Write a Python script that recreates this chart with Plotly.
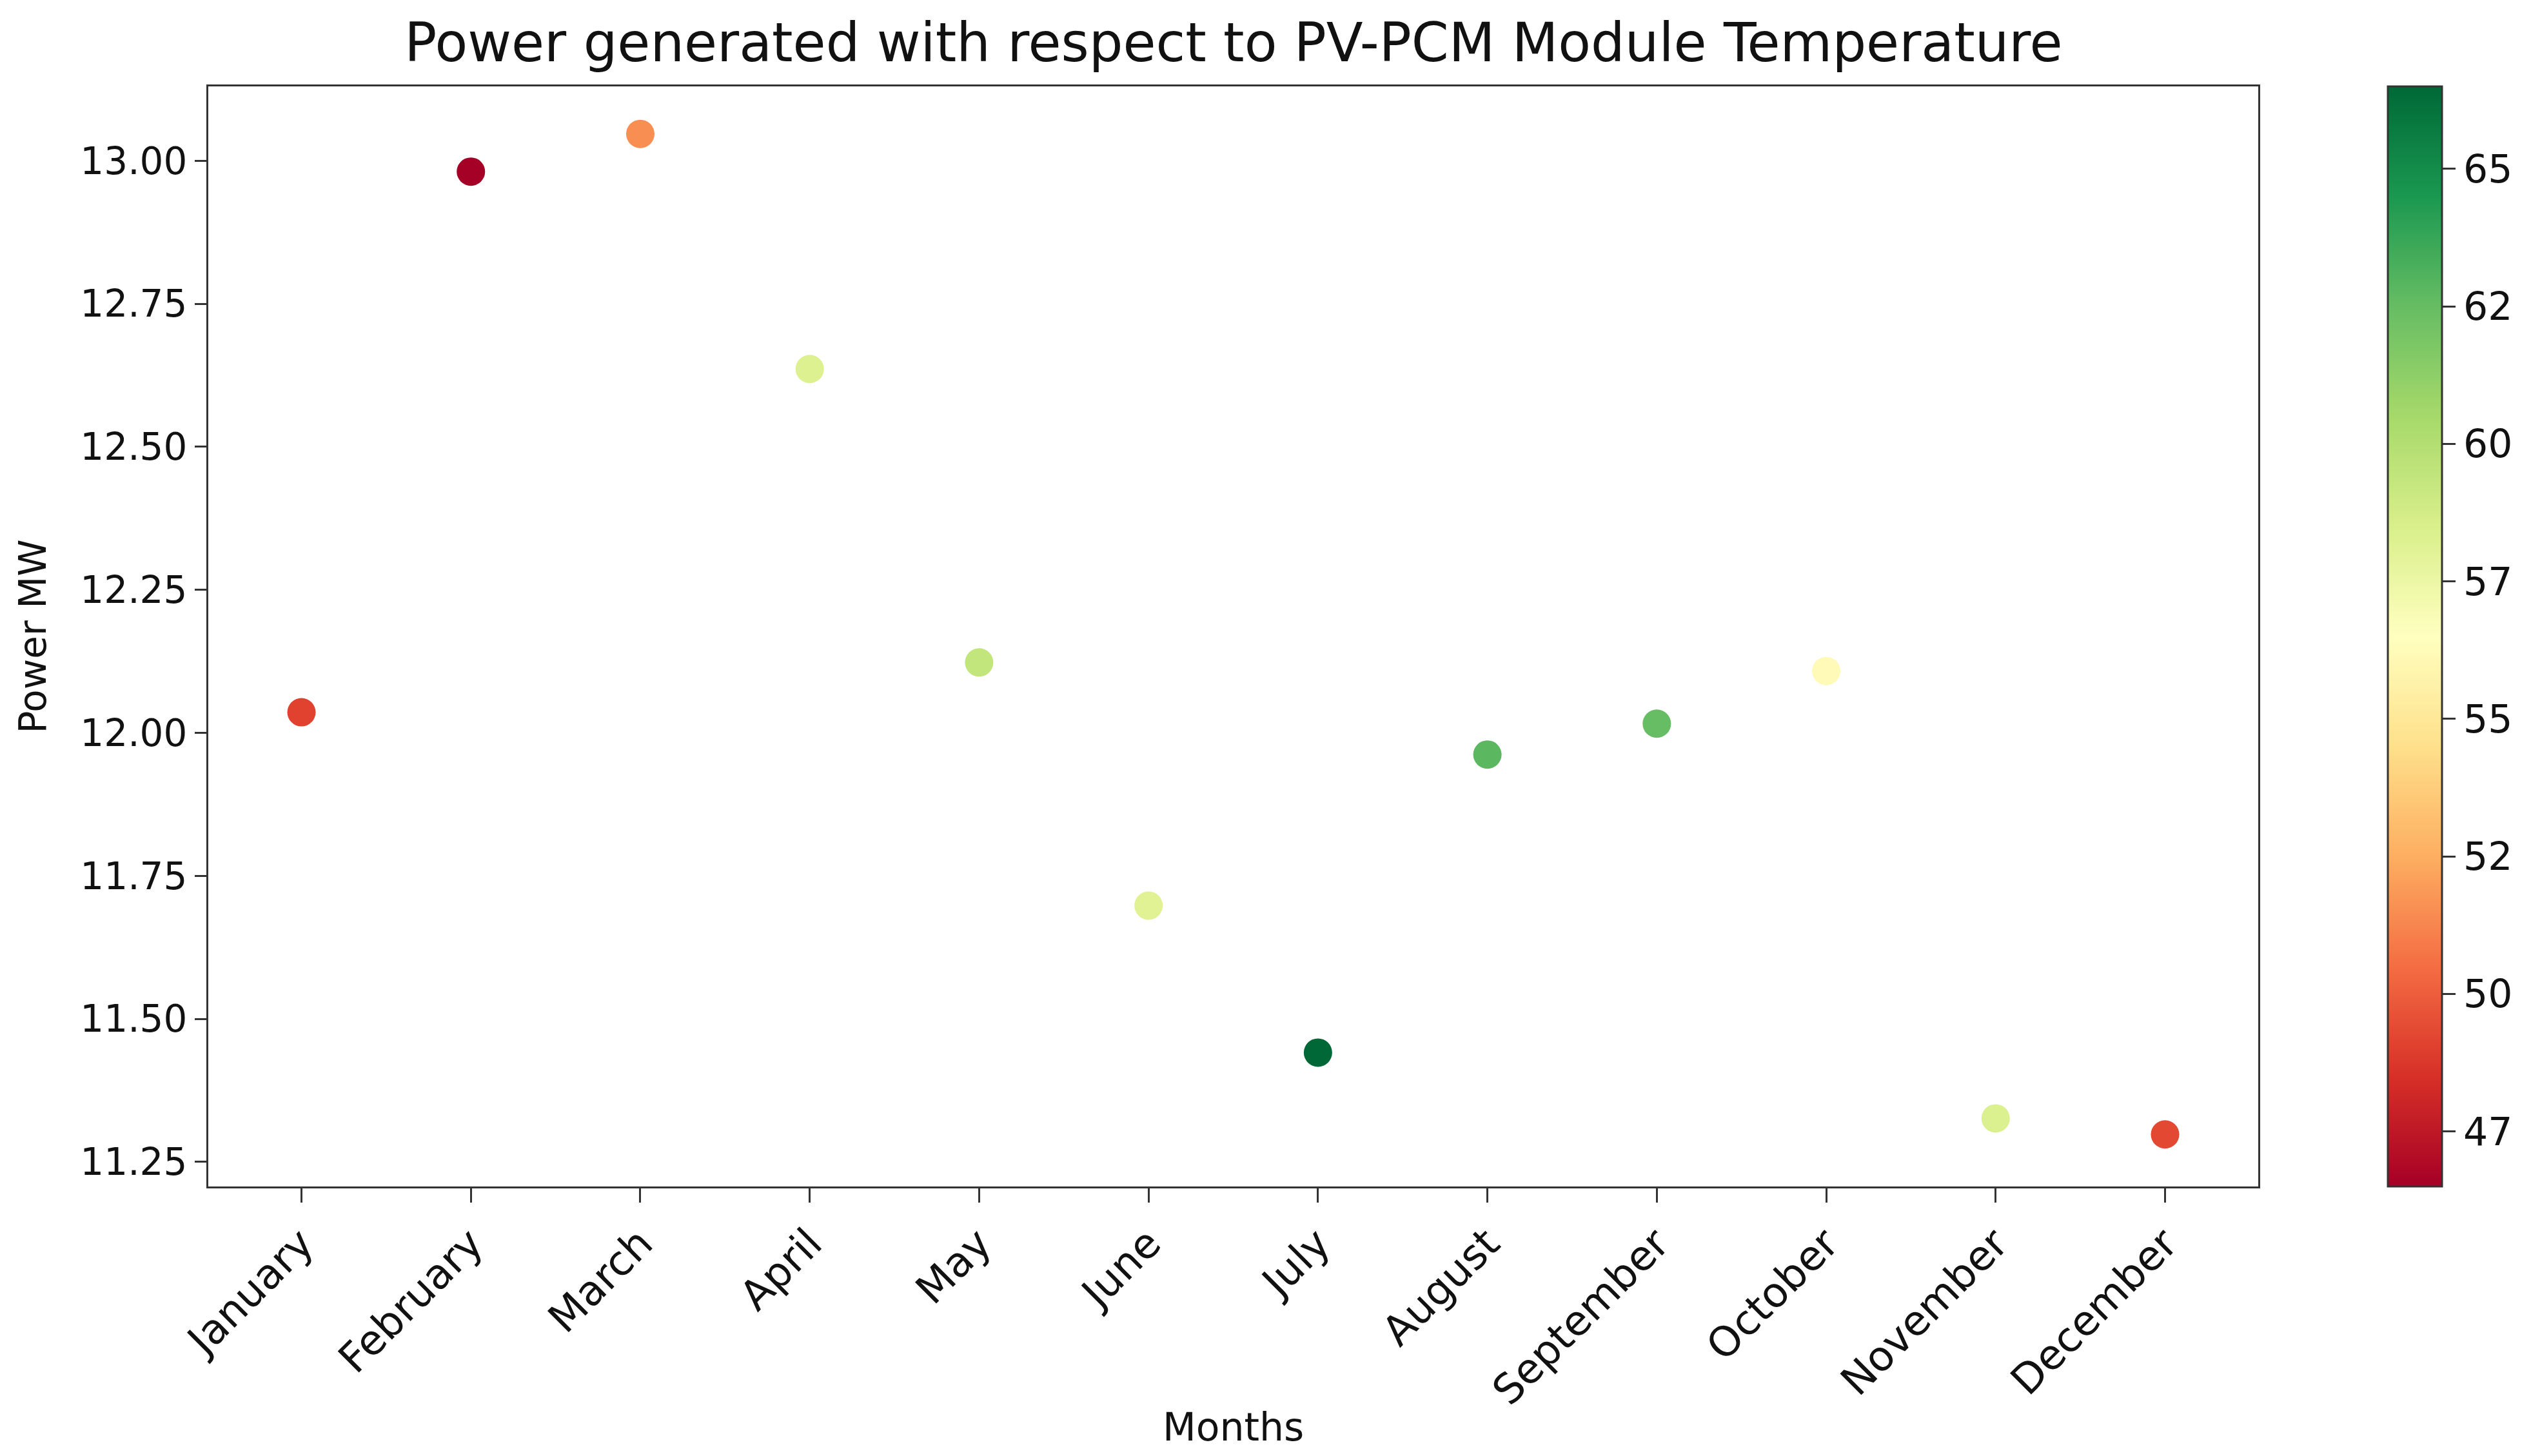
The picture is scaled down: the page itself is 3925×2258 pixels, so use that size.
import plotly.graph_objects as go

months = ["January", "February", "March", "April", "May", "June", "July",
          "August", "September", "October", "November", "December"]
power_mw = [12.036, 12.981, 13.047, 12.636, 12.123, 11.698, 11.441,
            11.962, 12.016, 12.108, 11.326, 11.298]
module_temp = [49.1, 46.5, 51.5, 58.3, 59.4, 58.1, 66.5,
               62.8, 62.5, 56.2, 58.4, 49.3]

cbar_tickvals = [47.5, 50, 52.5, 55, 57.5, 60, 62.5, 65]
cbar_ticktext = ["47", "50", "52", "55", "57", "60", "62", "65"]
y_tickvals = [11.25, 11.5, 11.75, 12.0, 12.25, 12.5, 12.75, 13.0]
y_ticktext = ["11.25", "11.50", "11.75", "12.00", "12.25", "12.50", "12.75", "13.00"]

FONT = "DejaVu Sans"
W, H = 3925, 2258
ML, MR, MT, MB = 315, 431, 126, 426
PH = H - MT - MB

fig = go.Figure()
fig.add_trace(go.Scatter(
    x=list(range(len(months))),
    y=power_mw,
    mode="markers",
    marker=dict(
        size=44,
        color=module_temp,
        colorscale="RdYlGn",
        cmin=46.5,
        cmax=66.5,
        line=dict(width=0),
        showscale=True,
        colorbar=dict(
            x=(3695 - ML) / (W - ML - MR),
            xanchor="left",
            xpad=0,
            y=0.5,
            yanchor="middle",
            len=1,
            lenmode="fraction",
            ypad=0,
            thickness=84,
            thicknessmode="pixels",
            outlinewidth=3,
            outlinecolor="#333333",
            tickmode="array",
            tickvals=cbar_tickvals,
            ticktext=cbar_ticktext,
            ticks="outside",
            ticklen=20,
            tickwidth=3,
            tickcolor="#333333",
            tickfont=dict(family=FONT, size=60, color="#111111"),
        ),
    ),
    showlegend=False,
))

fig.update_layout(
    width=W,
    height=H,
    margin=dict(l=ML, r=MR, t=MT, b=MB),
    paper_bgcolor="white",
    plot_bgcolor="white",
    font=dict(family=FONT, color="#111111"),
    title=dict(
        text="Power generated with respect to PV-PCM Module Temperature",
        x=1905 / W,
        xanchor="center",
        y=1 - 58 / H,
        yanchor="middle",
        font=dict(family=FONT, size=83, color="#111111"),
    ),
    xaxis=dict(
        range=[-0.55, 11.55],
        tickmode="array",
        tickvals=list(range(len(months))),
        ticktext=months,
        tickangle=-45,
        tickfont=dict(family=FONT, size=64, color="#111111"),
        ticks="outside",
        ticklen=22,
        tickwidth=3,
        tickcolor="#333333",
        showline=True,
        linecolor="#333333",
        linewidth=3,
        mirror=True,
        showgrid=False,
        zeroline=False,
    ),
    yaxis=dict(
        range=[11.207, 13.13],
        tickmode="array",
        tickvals=y_tickvals,
        ticktext=y_ticktext,
        tickfont=dict(family=FONT, size=58, color="#111111"),
        ticks="outside",
        ticklen=18,
        tickwidth=3,
        tickcolor="#333333",
        showline=True,
        linecolor="#333333",
        linewidth=3,
        mirror=True,
        showgrid=False,
        zeroline=False,
        title=dict(text="Power MW", font=dict(family=FONT, size=58, color="#111111"),
                   standoff=35),
    ),
    annotations=[
        dict(
            text="Months",
            xref="paper", yref="paper",
            x=0.5, y=-(2205 - (H - MB)) / PH,
            xanchor="center", yanchor="middle",
            showarrow=False,
            font=dict(family=FONT, size=60, color="#111111"),
        )
    ],
)

fig.write_html("out.html")
